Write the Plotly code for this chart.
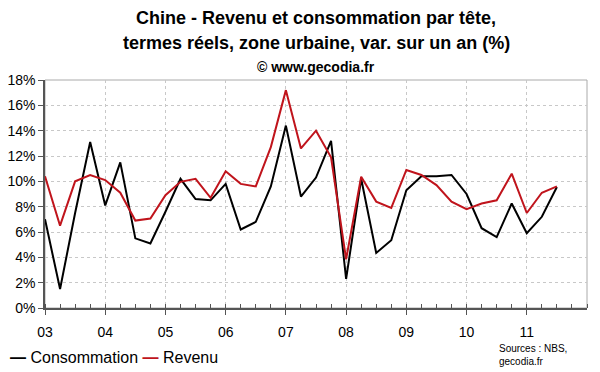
import plotly.graph_objects as go

quarters = [2003 + i / 4 for i in range(35)]
consommation = [7.0, 1.5, 7.5, 13.1, 8.1, 11.5, 5.5, 5.1, 7.6, 10.2, 8.6, 8.5, 9.8, 6.2, 6.8, 9.6,
                14.4, 8.8, 10.3, 13.2, 2.3, 10.2, 4.35, 5.35, 9.3, 10.4, 10.4, 10.5, 9.0, 6.3, 5.6, 8.25,
                5.9, 7.2, 9.55]
revenu = [10.4, 6.5, 10.0, 10.5, 10.1, 9.1, 6.9, 7.06, 8.9, 9.96, 10.2, 8.7, 10.8, 9.8, 9.6, 12.7,
          17.2, 12.6, 14.0, 11.9, 3.85, 10.36, 8.4, 7.9, 10.9, 10.5, 9.7, 8.4, 7.8, 8.25, 8.5, 10.6,
          7.5, 9.1, 9.6]
year_ticks = list(range(2003, 2012))
year_labels = ["03", "04", "05", "06", "07", "08", "09", "10", "11"]
y_ticks = list(range(0, 19, 2))
y_labels = [f"{v}%" for v in y_ticks]

BLACK = "#000000"
RED = "#c0141c"

fig = go.Figure()
fig.add_trace(go.Scatter(x=quarters, y=consommation, mode="lines", name="Consommation",
                         line=dict(color=BLACK, width=2), showlegend=False))
fig.add_trace(go.Scatter(x=quarters, y=revenu, mode="lines", name="Revenu",
                         line=dict(color=RED, width=2), showlegend=False))

# page body has an 8px margin: compensate so the plot lands at x 45..587, y 80..308
fig.update_layout(
    width=600, height=372,
    margin=dict(l=37, r=21, t=72, b=72, autoexpand=False),
    paper_bgcolor="white", plot_bgcolor="white",
    font=dict(family="Liberation Sans, Arial, sans-serif", color="#000000"),
    showlegend=False,
    xaxis=dict(range=[2003, 2012], tickmode="array", tickvals=year_ticks, ticktext=year_labels,
               showgrid=True, gridcolor="#c8c8c8", griddash="dot", gridwidth=1,
               showline=True, linecolor="#555555", linewidth=1.5,
               ticks="outside", ticklen=5, tickcolor="#555555", tickfont=dict(size=14),
               ticklabelstandoff=5,
               minor=dict(dtick=0.25, tick0=2003, ticks="inside", ticklen=4, tickcolor="#555555",
                          showgrid=False),
               zeroline=False, fixedrange=True, automargin=False),
    yaxis=dict(range=[0, 18], tickmode="array", tickvals=y_ticks, ticktext=y_labels,
               showgrid=True, gridcolor="#c8c8c8", griddash="dot", gridwidth=1,
               showline=True, linecolor="#555555", linewidth=1.5,
               ticks="outside", ticklen=5, tickcolor="#555555", tickfont=dict(size=14),
               zeroline=False, fixedrange=True, automargin=False),
)

fig.add_shape(type="rect", xref="paper", yref="paper", x0=0, y0=0, x1=1, y1=1,
              line=dict(color="#aaaaaa", width=1), layer="below")

fig.add_annotation(text="<b>Chine - Revenu et consommation par tête,</b>", xref="paper", yref="paper",
                   x=0.5, y=1, yshift=62, yanchor="middle", showarrow=False, font=dict(size=18),
                   xanchor="center")
fig.add_annotation(text="<b>termes réels, zone urbaine, var. sur un an (%)</b>", xref="paper", yref="paper",
                   x=0.5, y=1, yshift=37, yanchor="middle", showarrow=False, font=dict(size=18),
                   xanchor="center")
fig.add_annotation(text="<b>© www.gecodia.fr</b>", xref="paper", yref="paper",
                   x=0.5, y=1, yshift=13, yanchor="middle", showarrow=False, font=dict(size=14),
                   xanchor="center")
fig.add_annotation(text="Sources : NBS,<br>gecodia.fr", xref="paper", yref="paper",
                   x=0.834, y=-0.145, xanchor="left", yanchor="top", showarrow=False, align="left",
                   font=dict(size=10))

# legend
fig.add_annotation(text=f"<span style='color:{BLACK}'><b>\u2014</b></span> Consommation "
                        f"<span style='color:{RED}'><b>\u2014</b></span> Revenu",
                   xref="paper", yref="paper", x=-0.068, y=-0.219, xanchor="left", yanchor="middle",
                   showarrow=False, font=dict(size=16))

fig.write_html("out.html")
